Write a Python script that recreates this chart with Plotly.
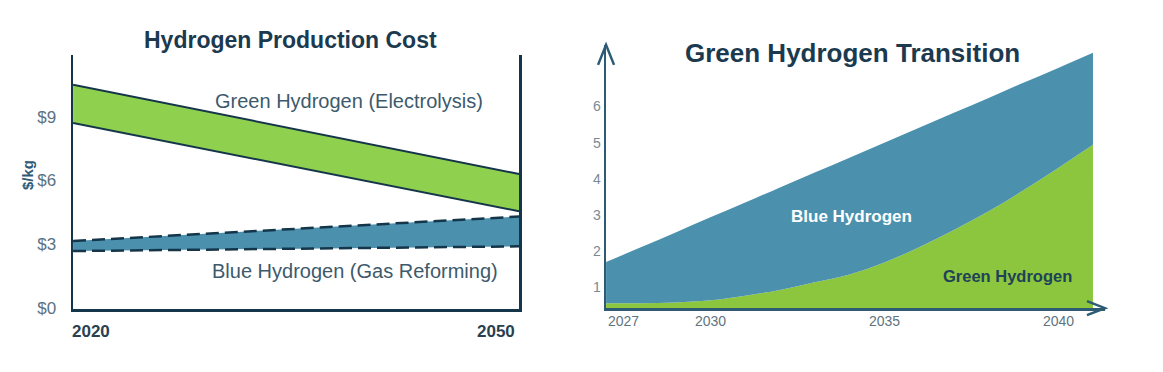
import plotly.graph_objects as go

# ---------------- Left chart data: Hydrogen Production Cost ----------------
cost_years = [2020, 2050]
green_high = [10.5, 6.3]
green_low = [8.7, 4.55]
blue_high = [3.15, 4.3]
blue_low = [2.68, 2.9]
cost_ticks = [0, 3, 6, 9]
cost_tick_text = ["$0", "$3", "$6", "$9"]
cost_year_labels = ["2020", "2050"]

# ---------------- Right chart data: Green Hydrogen Transition --------------
trans_years = [2027, 2028, 2029, 2030, 2031, 2032, 2033, 2034,
               2035, 2036, 2037, 2038, 2039, 2040, 2041]
green_level = [0.55, 0.55, 0.57, 0.63, 0.76, 0.92, 1.13, 1.35,
               1.68, 2.10, 2.58, 3.10, 3.68, 4.30, 4.94]
total_level = [1.69, 2.10, 2.51, 2.93, 3.34, 3.76, 4.17, 4.58,
               5.00, 5.41, 5.83, 6.24, 6.66, 7.07, 7.49]
trans_ticks = [2027, 2030, 2035, 2040]
trans_y_ticks = [1, 2, 3, 4, 5, 6]

NAVY = "#15364a"
GREEN_FILL = "#8fd14f"
BLUE_FILL = "#4b91ae"
TEXT = "#3d5a6c"
FONT = "Liberation Sans, Arial, sans-serif"

fig = go.Figure()

# Left: blue band (dashed borders)
fig.add_trace(go.Scatter(x=cost_years, y=blue_low, mode="lines",
                         line=dict(color=NAVY, width=2.5, dash="13px,6px"),
                         xaxis="x", yaxis="y", showlegend=False, hoverinfo="skip"))
fig.add_trace(go.Scatter(x=cost_years, y=blue_high, mode="lines", fill="tonexty",
                         fillcolor=BLUE_FILL,
                         line=dict(color=NAVY, width=2.5, dash="13px,6px"),
                         xaxis="x", yaxis="y", showlegend=False, hoverinfo="skip"))
# Left: green band
fig.add_trace(go.Scatter(x=cost_years, y=green_low, mode="lines",
                         line=dict(color=NAVY, width=2),
                         xaxis="x", yaxis="y", showlegend=False, hoverinfo="skip"))
fig.add_trace(go.Scatter(x=cost_years, y=green_high, mode="lines", fill="tonexty",
                         fillcolor=GREEN_FILL,
                         line=dict(color=NAVY, width=2),
                         xaxis="x", yaxis="y", showlegend=False, hoverinfo="skip"))

# Right: stacked areas
fig.add_trace(go.Scatter(x=trans_years, y=green_level, mode="lines", fill="tozeroy",
                         fillcolor="#8cc63f", line=dict(width=0, shape="spline", color="#8cc63f"),
                         xaxis="x2", yaxis="y2", showlegend=False, hoverinfo="skip"))
fig.add_trace(go.Scatter(x=trans_years, y=total_level, mode="lines", fill="tonexty",
                         fillcolor="#4b91ae", line=dict(width=0, shape="spline", color="#4b91ae"),
                         xaxis="x2", yaxis="y2", showlegend=False, hoverinfo="skip"))

annotations = []
# Titles
annotations.append(dict(text="<b>Hydrogen Production Cost</b>", xref="paper", yref="paper",
                        x=0.2502, y=0.8901, xanchor="center", yanchor="middle", showarrow=False,
                        font=dict(family=FONT, size=23, color="#1b3a4f")))
annotations.append(dict(text="<b>Green Hydrogen Transition</b>", xref="paper", yref="paper",
                        x=0.7326, y=0.8544, xanchor="center", yanchor="middle", showarrow=False,
                        font=dict(family=FONT, size=26, color="#1b3a4f")))
# Left labels
annotations.append(dict(text="Green Hydrogen (Electrolysis)", xref="x", yref="y",
                        x=2038.57, y=9.74, showarrow=False,
                        font=dict(family=FONT, size=20, color=TEXT)))
annotations.append(dict(text="Blue Hydrogen (Gas Reforming)", xref="x", yref="y",
                        x=2038.97, y=1.73, showarrow=False,
                        font=dict(family=FONT, size=20, color=TEXT)))
annotations.append(dict(text="<b>$/kg</b>", xref="paper", yref="paper", x=0.0146, y=0.5192,
                        textangle=-90, showarrow=False,
                        font=dict(family=FONT, size=15, color="#2f5a73")))
# Left year labels
for i, (yr, lab) in enumerate(zip(cost_years, cost_year_labels)):
    annotations.append(dict(text="<b>%s</b>" % lab, xref="x", yref="y domain", x=yr, y=0,
                            xanchor="left" if i == 0 else "right", yanchor="top",
                            xshift=-3 if i == 0 else -2, yshift=-11, showarrow=False,
                            font=dict(family=FONT, size=17, color="#2a3f4f")))
# Right labels
annotations.append(dict(text="<b>Blue Hydrogen</b>", xref="x2", yref="y2", x=2034.07, y=2.96,
                        showarrow=False, font=dict(family=FONT, size=17, color="white")))
annotations.append(dict(text="<b>Green Hydrogen</b>", xref="x2", yref="y2", x=2038.55, y=1.3,
                        showarrow=False, font=dict(family=FONT, size=16.5, color="#1f4256")))
# Right year labels
for i, yr in enumerate(trans_ticks):
    annotations.append(dict(text=str(yr), xref="x2", yref="y2 domain", x=yr, y=0,
                            xanchor="left" if i == 0 else "center", yanchor="top",
                            yshift=-3, showarrow=False,
                            font=dict(family=FONT, size=14, color="#5f7380")))

AX2 = "#2c5b73"
shapes = [
    # y-axis arrow head (right chart)
    dict(type="path", xref="x2 domain", yref="y2 domain", xsizemode="pixel", ysizemode="pixel",
         xanchor=0, yanchor=1, path="M -8 -20 L 0 0 L 8 -20",
         line=dict(color=AX2, width=2.5)),
    # x-axis arrow head (right chart)
    dict(type="path", xref="x2 domain", yref="y2 domain", xsizemode="pixel", ysizemode="pixel",
         xanchor=1, yanchor=0, path="M -18 7 L 0 0 L -18 -7",
         line=dict(color=AX2, width=2.5)),
]

fig.update_layout(
    width=1163, height=372, autosize=False,
    margin=dict(l=0, r=0, t=0, b=0),
    paper_bgcolor="white", plot_bgcolor="rgba(0,0,0,0)",
    showlegend=False,
    annotations=annotations,
    shapes=shapes,
    xaxis=dict(domain=[0.0628, 0.4463], range=[2020, 2050], showgrid=False, zeroline=False,
               showline=True, linecolor=NAVY, linewidth=2.5, showticklabels=False,
               anchor="y", fixedrange=True),
    yaxis=dict(domain=[0.1484, 0.8489], range=[-0.05, 11.9], showgrid=False, zeroline=False,
               showline=True, mirror=True, linecolor=NAVY, linewidth=2.5,
               tickvals=cost_ticks, ticktext=cost_tick_text,
               ticks="outside", ticklen=11, tickcolor="rgba(0,0,0,0)",
               tickfont=dict(family=FONT, size=17, color="#5b7282"),
               anchor="x", fixedrange=True),
    xaxis2=dict(domain=[0.5211, 0.9501], range=[2027, 2041.345], showgrid=False, zeroline=False,
                showline=True, linecolor=AX2, linewidth=2.5, showticklabels=False,
                anchor="y2", fixedrange=True),
    yaxis2=dict(domain=[0.1511, 0.8764], range=[0.414, 7.71], showgrid=False, zeroline=False,
                showline=True, linecolor=AX2, linewidth=2.5,
                tickvals=trans_y_ticks, ticks="",
                tickfont=dict(family=FONT, size=14, color="#7a8a94"),
                anchor="x2", fixedrange=True),
)

fig.write_html("out.html",
               config={"responsive": False, "displayModeBar": False, "staticPlot": True},
               post_script="document.body.style.margin='0';document.body.style.overflow='hidden';")
